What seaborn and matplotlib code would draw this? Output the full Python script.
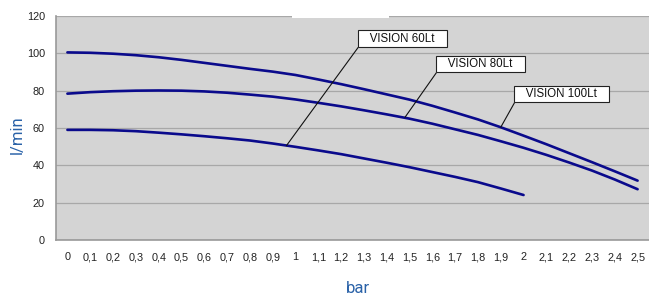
import matplotlib
matplotlib.use("Agg")
import matplotlib.pyplot as plt
import seaborn as sns
import pandas as pd
from matplotlib.patches import Rectangle

# ---- data ----
bar_labels = ["0", "0,1", "0,2", "0,3", "0,4", "0,5", "0,6", "0,7", "0,8", "0,9", "1",
              "1,1", "1,2", "1,3", "1,4", "1,5", "1,6", "1,7", "1,8", "1,9", "2",
              "2,1", "2,2", "2,3", "2,4", "2,5"]
flow_100 = [100.5, 100.3, 99.8, 99.0, 97.9, 96.5, 94.9, 93.3, 91.7, 90.2, 88.4,
            86.0, 83.5, 80.8, 78.0, 75.2, 71.9, 68.3, 64.6, 60.4, 55.9,
            51.3, 46.5, 41.7, 36.8, 31.8]
flow_80 = [78.4, 79.2, 79.7, 80.0, 80.1, 80.0, 79.6, 78.9, 77.9, 76.8, 75.3,
           73.5, 71.6, 69.5, 67.3, 65.0, 62.3, 59.3, 56.3, 52.9, 49.4,
           45.6, 41.5, 37.2, 32.4, 27.2]
flow_60 = [59.0, 59.0, 58.8, 58.3, 57.5, 56.6, 55.6, 54.5, 53.3, 51.7, 49.9,
           48.0, 46.0, 43.7, 41.4, 39.0, 36.4, 33.8, 31.0, 27.6, 24.1]
series_names = ["VISION 60Lt", "VISION 80Lt", "VISION 100Lt"]
y_ticks = [0, 20, 40, 60, 80, 100, 120]

rows = []
for name, vals in zip(series_names, [flow_60, flow_80, flow_100]):
    for i, v in enumerate(vals):
        rows.append({"pos": i, "flow": v, "series": name})
df = pd.DataFrame(rows)

sns.set_theme(style="white")
plt.rcParams["font.family"] = ["Liberation Sans", "DejaVu Sans"]

fig = plt.figure(figsize=(6.49, 2.96), dpi=100)
ax = fig.add_axes([56 / 649, 1 - 240 / 296, 1 - 56 / 649, (240 - 16) / 296])
ax.set_facecolor("#d4d4d4")

line_color = "#0a0a8c"
sns.lineplot(data=df, x="pos", y="flow", hue="series", ax=ax,
             palette={n: line_color for n in series_names},
             linewidth=1.9, legend=False, sort=True)

ax.set_xlim(-0.5, len(bar_labels) - 0.5)
ax.set_ylim(0, 120)
ax.set_yticks(y_ticks)
ax.set_yticklabels([str(t) for t in y_ticks], fontsize=7.8, color="#222222")
ax.set_xticks(range(len(bar_labels)))
ax.set_xticklabels(bar_labels, fontsize=7.8, color="#222222")
ax.set_xticks([i - 0.5 for i in range(len(bar_labels) + 1)], minor=True)
ax.tick_params(axis="x", which="major", length=0, pad=9)
ax.tick_params(axis="x", which="minor", length=4, color="#999999", width=0.8)
ax.tick_params(axis="y", which="major", length=4, color="#999999", width=0.8, pad=4)

ax.grid(axis="y", color="#a8a8a8", linewidth=0.9)
ax.set_axisbelow(True)
for s in ["top", "right"]:
    ax.spines[s].set_visible(False)
for s in ["left", "bottom"]:
    ax.spines[s].set_color("#999999")
    ax.spines[s].set_linewidth(1.2)

label_color = "#2a62a8"
ax.set_ylabel("l/min", fontsize=12, color=label_color,
              family=["Roboto", "DejaVu Sans"], va="center")
ax.yaxis.set_label_coords(-0.066, 0.47)
ax.set_xlabel("bar", fontsize=12, color=label_color,
              family=["Roboto", "DejaVu Sans"], va="center")
ax.xaxis.set_label_coords(0.51, -0.215)

# annotations (text position, target point on curve)
ann = [
    ("VISION 60Lt", (14.68, 107.8), (9.6, 50.5)),
    ("VISION 80Lt", (18.1, 94.2), (14.8, 65.7)),
    ("VISION 100Lt", (21.66, 78.3), (19.0, 60.4)),
]
for txt, xyt, xy in ann:
    ax.annotate("   " + txt + "   ", xy=xy, xytext=xyt, ha="center", va="center",
                fontsize=8.3, color="#111111",
                bbox=dict(boxstyle="square,pad=0.2", fc="white", ec="#222222", lw=0.8),
                arrowprops=dict(arrowstyle="-", color="#111111", lw=0.8,
                                relpos=(0, 0), shrinkA=0, shrinkB=0))

# white cutout at the top of the plot area
fig.patches.append(Rectangle((292 / 649, 1 - 17.5 / 296), (389 - 292) / 649, 5 / 296,
                             transform=fig.transFigure, fc="white", ec="none", zorder=5))

fig.savefig("out.png", dpi=100)
